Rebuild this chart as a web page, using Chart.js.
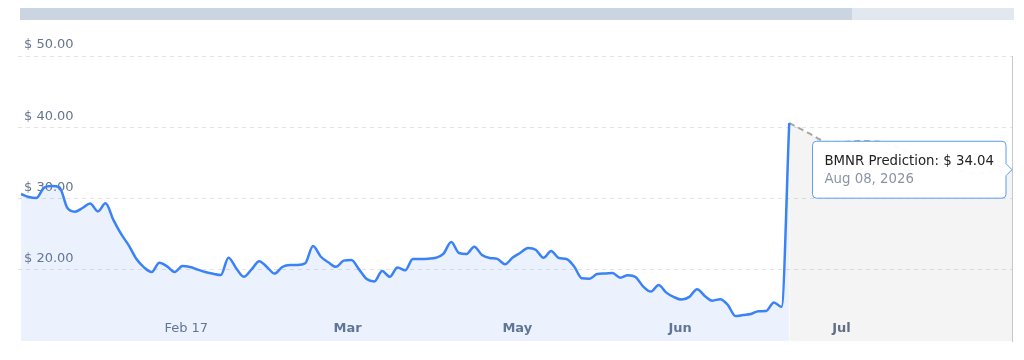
<!DOCTYPE html>
<html>
<head>
<meta charset="utf-8">
<script src="https://cdn.jsdelivr.net/npm/chart.js@4.4.0/dist/chart.umd.min.js"></script>
<style>
  html, body { margin: 0; padding: 0; background: #fff; }
  #wrap { position: relative; width: 1024px; height: 360px; }
  .nav { position: absolute; top: 8px; height: 12px; }
  #navDone { left: 20px; width: 832px; background: #cbd5e1; }
  #navRest { left: 852px; width: 162px; background: #e2e8f0; }
</style>
</head>
<body>
<div id="wrap">
  <canvas id="bmnrChart"></canvas>
  <div class="nav" id="navDone"></div>
  <div class="nav" id="navRest"></div>
</div>
<script>
// Kurs historik (en punkt per handelsdag), sista punkten = start på prognosen
const histValues = [
  30.63, 30.21, 30.07, 31.53, 31.75, 31.57, 28.72, 28.15, 28.67, 29.31,
  28.19, 29.33, 27.04, 25.06, 23.45, 21.54, 20.34, 19.68, 20.99, 20.48,
  19.68, 20.53, 20.39, 20.02, 19.68, 19.45, 19.26, 21.69, 20.22, 19.01,
  20.04, 21.21, 20.39, 19.47, 20.39, 20.67, 20.67, 20.91, 23.33, 21.86,
  21.05, 20.41, 21.28, 21.37, 20.05, 18.69, 18.36, 19.84, 19.02, 20.33,
  19.92, 21.51, 21.5, 21.55, 21.68, 22.27, 23.89, 22.35, 22.22, 23.24,
  22.07, 21.66, 21.52, 20.78, 21.72, 22.38, 23.05, 22.81, 21.68, 22.62,
  21.65, 21.52, 20.46, 18.8, 18.74, 19.4, 19.47, 19.54, 18.87, 19.24,
  18.98, 17.64, 16.93, 17.86, 16.79, 16.16, 15.81, 16.19, 17.28, 16.33,
  15.66, 15.87, 15.08, 13.51, 13.65, 13.79, 14.18, 14.21, 15.42, 14.79,
  40.6,
];

// Prognos (streckad linje)
const predValues = [
  40.6, 40.03, 39.47, 38.91, 38.28, 37.79, 37.86, 37.93, 38.0, 38.07,
  38.07, 38.0, 37.93, 37.65, 37.23, 36.81, 36.39, 35.96, 35.54, 35.12,
  34.7, 34.28, 34.0, 33.72, 33.58, 33.58, 33.72, 33.86, 33.93, 34.04,
];
const predEndDate = "Aug 08, 2026";

// Axlar
const tickPos = [21.5, 42.5, 64.6, 85.8, 106.8];
const tickLabels = ["Feb 17", "Mar", "May", "Jun", "Jul"];
const yTicks = [20, 30, 40, 50];

Chart.defaults.font.family = '"DejaVu Sans", Verdana, sans-serif';
Chart.defaults.font.size = 13;

const predStart = histValues.length - 1;
const histData = histValues.map((v, i) => ({ x: i, y: v }));
const predData = predValues.map((v, i) => ({ x: predStart + i, y: v }));

const labelColor = "#66758c";
const gridColor = "#e4e4e4";

const config = {
  type: "line",
  data: {
    datasets: [
      {
        label: "BMNR",
        data: histData,
        borderColor: "#3b82f6",
        borderWidth: 2.5,
        backgroundColor: "rgba(59,130,246,0.1)",
        fill: "start",
        pointRadius: 0,
        pointHoverRadius: 0,
        cubicInterpolationMode: "monotone",
      },
      {
        label: "BMNR Prediction",
        data: predData,
        borderColor: "#a6a6a6",
        borderWidth: 2,
        borderDash: [6, 4],
        backgroundColor: "rgba(0,0,0,0.045)",
        fill: "start",
        pointRadius: 0,
        pointHoverRadius: 0,
        cubicInterpolationMode: "monotone",
      },
    ],
  },
  options: {
    responsive: true,
    maintainAspectRatio: false,
    animation: false,
    events: [],
    layout: {
      padding: { top: 56, left: 6, right: 12, bottom: 9 },
    },
    plugins: {
      legend: { display: false },
      tooltip: {
        enabled: true,
        displayColors: false,
        xAlign: "right",
        yAlign: "center",
        backgroundColor: "rgba(255,255,255,0.97)",
        borderColor: "#5b9cf3",
        borderWidth: 1,
        cornerRadius: 4,
        caretSize: 6,
        caretPadding: 0,
        padding: { top: 12, bottom: 11, left: 12, right: 12 },
        titleColor: "#222222",
        titleFont: { size: 13.3, weight: "normal" },
        titleMarginBottom: 2,
        bodyColor: "#8a94a6",
        bodyFont: { size: 13.3 },
        callbacks: {
          title: (items) => "BMNR Prediction: $ " + items[0].parsed.y.toFixed(2),
          label: () => predEndDate,
        },
      },
    },
    scales: {
      x: {
        type: "linear",
        min: -0.4,
        max: 129,
        border: { display: false },
        grid: { display: false, drawTicks: false },
        afterBuildTicks: (axis) => (axis.ticks = tickPos.map((v) => ({ value: v }))),
        ticks: {
          mirror: true,
          padding: 5,
          maxRotation: 0,
          autoSkip: false,
          color: labelColor,
          font: (ctx) => ({ size: 13, weight: /\d/.test(tickLabels[ctx.index] || "") ? "normal" : "bold" }),
          callback: (value, index) => tickLabels[index],
        },
      },
      y: {
        position: "left",
        min: 10,
        max: 50,
        border: { display: false, dash: [4, 4] },
        grid: { color: gridColor, drawTicks: false },
        afterBuildTicks: (axis) => (axis.ticks = yTicks.map((v) => ({ value: v }))),
        ticks: {
          mirror: true,
          padding: 6,
          labelOffset: -11,
          color: labelColor,
          callback: (value) => "$ " + value.toFixed(2),
        },
      },
      y2: {
        position: "right",
        display: true,
        grid: { drawOnChartArea: false, drawTicks: false },
        border: { display: true, color: "#c4c9d1", dash: [3, 3] },
        ticks: { display: false },
      },
    },
  },
};

const canvas = document.getElementById("bmnrChart");
const myChart = new Chart(canvas, config);

// visa tooltip på sista prognospunkten
myChart.tooltip.setActiveElements([{ datasetIndex: 1, index: predValues.length - 1 }], { x: 0, y: 0 });
myChart.update();
</script>
</body>
</html>
